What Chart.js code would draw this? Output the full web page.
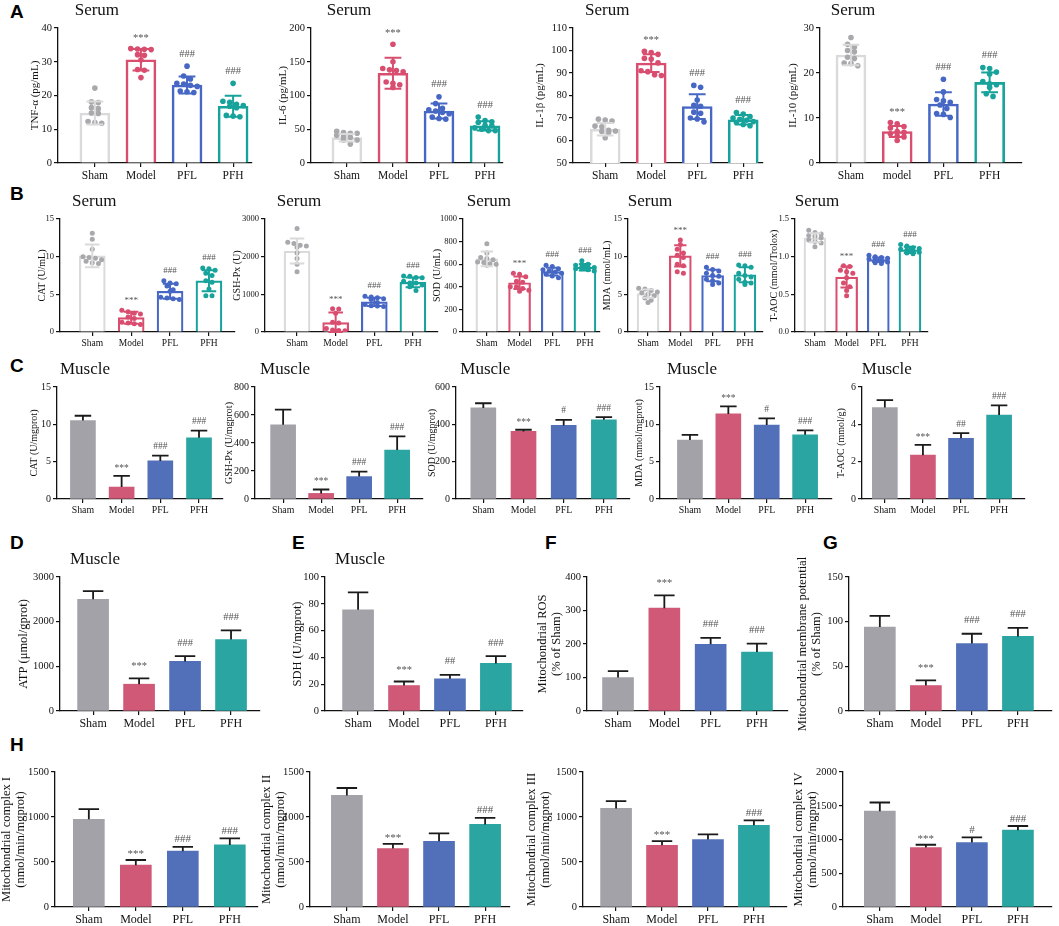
<!DOCTYPE html>
<html>
<head>
<meta charset="utf-8">
<script src="https://cdn.jsdelivr.net/npm/chart.js@4.4.1/dist/chart.umd.min.js"></script>
<style>
body { margin: 0; background: #fff; width: 1059px; height: 926px; position: relative; overflow: hidden; }
.lt { position: absolute; font-family: "Liberation Sans", Arial, sans-serif; font-weight: bold; font-size: 19px; line-height: 19px; color: #000; }
.box { position: absolute; }
</style>
</head>
<body>
<div class="lt" style="left:10px;top:2px">A</div>
<div class="lt" style="left:10px;top:184px">B</div>
<div class="lt" style="left:10px;top:356px">C</div>
<div class="lt" style="left:10px;top:533px">D</div>
<div class="lt" style="left:292px;top:533px">E</div>
<div class="lt" style="left:545px;top:533px">F</div>
<div class="lt" style="left:823px;top:533px">G</div>
<div class="lt" style="left:10px;top:735px">H</div>
<script>
const groups = ['Sham', 'Model', 'PFL', 'PFH'];
const groupsIL10 = ['Sham', 'model', 'PFL', 'PFH'];

// A - serum cytokines (mean, SD, single animals)
const tnfMean = [14.8, 30.6, 23.1, 16.8];
const tnfSd = [3.4, 3.2, 2.5, 3.1];
const tnfPoints = [
    [22.2, 18.1, 17.9, 16.4, 16.1, 14.8, 14.7, 12.3, 12.0, 11.8],
    [33.9, 33.8, 33.7, 33.6, 32.1, 31.9, 30.5, 27.7, 27.5, 25.3],
    [28.7, 25.8, 24.9, 23.6, 23.4, 23.0, 22.7, 21.1, 20.9, 21.3],
    [23.6, 18.3, 18.0, 17.4, 16.8, 16.4, 14.1, 13.9, 13.7, 17.0]
];
const tnfMarks = ['', '***', '###', '###'];

const il6Mean = [37.5, 133, 77, 55];
const il6Sd = [5.5, 23, 11, 7];
const il6Points = [
    [47, 45, 44, 44, 41, 39, 38, 34, 34, 28],
    [176, 150, 140, 138, 137, 135, 120, 118, 116, 112],
    [98, 88, 81, 79, 77, 75, 73, 68, 66, 65],
    [68, 63, 61, 60, 56, 55, 52, 50, 48, 48]
];
const il6Marks = ['', '***', '###', '###'];

const il1bMean = [65, 94.4, 75.1, 69.2];
const il1bSd = [2.8, 3.9, 5.5, 2.1];
const il1bPoints = [
    [69.5, 69.1, 68.7, 66.4, 66.1, 64.2, 64.0, 63.6, 61.2, 64.5],
    [99.6, 99.1, 98.3, 96.5, 96.2, 94.5, 91.0, 89.2, 88.9, 90.6],
    [84.5, 83.7, 78.0, 75.6, 75.2, 72.6, 72.1, 70.0, 69.6, 68.3],
    [72.4, 71.8, 70.6, 70.0, 69.4, 69.0, 68.4, 68.0, 67.1, 66.6]
];
const il1bMarks = ['', '***', '###', '###'];

const il10Mean = [24, 7, 13.1, 17.9];
const il10Sd = [2.3, 1.2, 2.6, 2.2];
const il10Points = [
    [27.9, 26.4, 25.8, 25.0, 24.7, 23.5, 23.2, 22.2, 22.1, 21.6],
    [9.0, 8.7, 8.1, 7.8, 7.0, 6.8, 6.5, 6.0, 5.8, 5.0],
    [18.6, 15.8, 14.1, 13.8, 13.5, 12.9, 12.1, 11.0, 10.8, 10.1],
    [21.2, 21.0, 20.2, 19.8, 18.1, 17.6, 17.4, 16.8, 15.4, 14.8]
];
const il10Marks = ['', '***', '###', '###'];

// B - serum oxidative stress
const catSMean = [10.1, 1.9, 5.4, 6.8];
const catSSd = [1.5, 0.8, 1.0, 1.4];
const catSPoints = [
    [13.1, 12.3, 11.0, 10.0, 9.9, 9.6, 9.4, 9.2, 9.1, 9.8],
    [2.9, 2.7, 2.5, 2.4, 2.0, 1.8, 1.3, 1.2, 1.0, 1.1],
    [6.8, 6.5, 6.4, 6.1, 5.6, 5.4, 4.6, 4.5, 4.4, 4.3],
    [8.5, 8.4, 8.2, 7.8, 7.5, 6.8, 6.6, 5.7, 4.8, 4.8]
];
const catSMarks = ['', '***', '###', '###'];

const gshSMean = [2150, 250, 800, 1320];
const gshSSd = [330, 270, 110, 130];
const gshSPoints = [
    [2750, 2380, 2350, 2300, 2280, 2250, 2100, 1950, 1800, 1600],
    [620, 610, 500, 260, 240, 90, 50, 30, 20, 40],
    [950, 930, 910, 880, 860, 780, 730, 700, 680, 690],
    [1490, 1480, 1450, 1440, 1350, 1300, 1250, 1200, 1100, 1300]
];
const gshSMarks = ['', '***', '###', '###'];

const sodSMean = [647, 436, 534, 573];
const sodSSd = [65, 55, 35, 28];
const sodSPoints = [
    [780, 700, 660, 650, 640, 620, 605, 600, 590, 615],
    [520, 510, 490, 450, 440, 400, 385, 370, 360, 400],
    [590, 580, 560, 550, 540, 530, 520, 510, 495, 480],
    [630, 600, 590, 580, 575, 570, 560, 550, 540, 560]
];
const sodSMarks = ['', '***', '###', '###'];

const mdaSMean = [5.1, 10.1, 7.5, 7.6];
const mdaSSd = [0.55, 1.4, 0.75, 1.0];
const mdaSPoints = [
    [5.8, 5.7, 5.5, 5.3, 5.2, 5.0, 4.8, 4.5, 4.2, 3.9],
    [12.2, 11.6, 11.0, 10.5, 10.2, 9.9, 9.0, 8.8, 8.0, 7.8],
    [8.6, 8.3, 8.1, 7.8, 7.5, 7.4, 7.0, 6.8, 6.5, 6.3],
    [8.9, 8.8, 8.6, 7.8, 7.5, 7.3, 7.0, 6.6, 6.5, 6.3]
];
const mdaSMarks = ['', '***', '###', '###'];

const taocSMean = [1.25, 0.73, 0.96, 1.09];
const taocSSd = [0.06, 0.14, 0.03, 0.04];
const taocSPoints = [
    [1.35, 1.32, 1.30, 1.28, 1.27, 1.25, 1.22, 1.20, 1.18, 1.13],
    [0.88, 0.87, 0.82, 0.80, 0.78, 0.72, 0.65, 0.60, 0.55, 0.48],
    [1.02, 1.00, 0.99, 0.98, 0.97, 0.96, 0.95, 0.93, 0.92, 0.91],
    [1.16, 1.14, 1.12, 1.11, 1.10, 1.09, 1.08, 1.06, 1.05, 1.04]
];
const taocSMarks = ['', '***', '###', '###'];

// C - muscle oxidative stress
const catMMean = [10.5, 1.6, 5.1, 8.2];
const catMSd = [0.65, 1.5, 0.7, 0.95];
const catMMarks = ['', '***', '###', '###'];
const gshMMean = [530, 40, 160, 350];
const gshMSd = [108, 28, 35, 98];
const gshMMarks = ['', '***', '###', '###'];
const sodMMean = [488, 362, 394, 424];
const sodMSd = [25, 9, 30, 15];
const sodMMarks = ['', '***', '#', '###'];
const mdaMMean = [7.9, 11.4, 9.9, 8.6];
const mdaMSd = [0.7, 1.0, 0.9, 0.6];
const mdaMMarks = ['', '***', '#', '###'];
const taocMMean = [4.9, 2.35, 3.25, 4.5];
const taocMSd = [0.4, 0.55, 0.28, 0.52];
const taocMMarks = ['', '***', '##', '###'];

// D-G - energy metabolism
const atpMean = [2500, 600, 1110, 1600];
const atpSd = [185, 130, 120, 205];
const atpMarks = ['', '***', '###', '###'];
const sdhMean = [75.5, 19, 24, 35.5];
const sdhSd = [13, 3, 3, 5.5];
const sdhMarks = ['', '***', '##', '###'];
const rosMean = [100, 307, 199, 176];
const rosSd = [19, 38, 19, 25];
const rosMarks = ['', '***', '###', '###'];
const mmpMean = [94, 28.5, 75.5, 83.5];
const mmpSd = [12.5, 5.8, 11, 9.5];
const mmpMarks = ['', '***', '###', '###'];

// H - mitochondrial complexes
const cx1Mean = [975, 465, 620, 690];
const cx1Sd = [112, 57, 48, 72];
const cx1Marks = ['', '***', '###', '###'];
const cx2Mean = [1240, 650, 730, 918];
const cx2Sd = [82, 52, 88, 72];
const cx2Marks = ['', '***', '', '###'];
const cx3Mean = [1095, 685, 750, 908];
const cx3Sd = [82, 48, 58, 54];
const cx3Marks = ['', '***', '', '###'];
const cx4Mean = [1420, 882, 955, 1138];
const cx4Sd = [128, 40, 76, 62];
const cx4Marks = ['', '***', '#', '###'];

const hollowLine = ['#dadada', '#d94d6f', '#4767c5', '#17a39b'];
const hollowDot = ['#a8a8ad', '#d94d6f', '#4767c5', '#17a39b'];
const solidFill = ['#a2a2a8', '#cf5977', '#5170b9', '#2aa5a2'];
const serif = '"Liberation Serif", "Times New Roman", serif';

// row styles
const rowA = { kind: 'hollow', barW: 30, bw: 2.6, r: 2.8, xh: 24, tickSize: 10.5, catSize: 11.5, labSize: 11, markSize: 10.5, gap: 13 };
const rowB = { kind: 'hollow', barW: 26, bw: 2.2, r: 2.5, xh: 22, tickSize: 8.5, catSize: 9.5, labSize: 10, markSize: 9, gap: 11 };
const rowC = { kind: 'solid', barW: 25, xh: 22, tickSize: 10, catSize: 9.8, labSize: 10, markSize: 9.5, gap: 10 };
const rowD = { kind: 'solid', barW: 31, xh: 26, tickSize: 10.5, catSize: 12, labSize: 12.5, markSize: 10.5, gap: 14 };
const rowH = { kind: 'solid', barW: 31, xh: 26, tickSize: 10.5, catSize: 12, labSize: 12.5, markSize: 11, gap: 8 };

const panels = [
    { ...rowA, rect: [58, 28, 252, 163], xr: [-0.80, 3.41], yw: 29, title: 'Serum', ylabel: 'TNF-α (pg/mL)', yMin: 0, yMax: 40, step: 10, cats: groups, mean: tnfMean, sd: tnfSd, points: tnfPoints, marks: tnfMarks },
    { ...rowA, rect: [311, 28, 503, 163], xr: [-0.78, 3.39], yw: 34, title: 'Serum', ylabel: 'IL-6 (pg/mL)', yMin: 0, yMax: 200, step: 50, cats: groups, mean: il6Mean, sd: il6Sd, points: il6Points, marks: il6Marks },
    { ...rowA, rect: [573, 28, 763, 163], xr: [-0.70, 3.43], yw: 39, title: 'Serum', ylabel: 'IL-1β (pg/mL)', yMin: 50, yMax: 110, step: 10, cats: groups, mean: il1bMean, sd: il1bSd, points: il1bPoints, marks: il1bMarks },
    { ...rowA, rect: [820, 28, 1022, 163], xr: [-0.67, 3.70], yw: 33, title: 'Serum', ylabel: 'IL-10 (pg/mL)', yMin: 0, yMax: 30, step: 10, cats: groupsIL10, mean: il10Mean, sd: il10Sd, points: il10Points, marks: il10Marks },

    { ...rowB, rect: [60, 219, 235, 332], xr: [-0.83, 3.67], yw: 23, title: 'Serum', ylabel: 'CAT (U/mL)', yMin: 0, yMax: 15, step: 5, cats: groups, mean: catSMean, sd: catSSd, points: catSPoints, marks: catSMarks },
    { ...rowB, rect: [265, 219, 438, 332], xr: [-0.83, 3.65], yw: 33, title: 'Serum', ylabel: 'GSH-Px (U)', yMin: 0, yMax: 3000, step: 1000, cats: groups, mean: gshSMean, sd: gshSSd, points: gshSPoints, marks: gshSMarks },
    { ...rowB, barW: 22, rect: [463, 219, 600, 332], xr: [-0.73, 3.46], yw: 31, title: 'Serum', ylabel: 'SOD (U/mL)', yMin: 0, yMax: 1000, step: 200, cats: groups, mean: sodSMean, sd: sodSSd, points: sodSPoints, marks: sodSMarks },
    { ...rowB, barW: 22, rect: [628, 219, 763, 332], xr: [-0.62, 3.56], yw: 26, title: 'Serum', ylabel: 'MDA (nmol/mL)', yMin: 0, yMax: 15, step: 5, cats: groups, mean: mdaSMean, sd: mdaSSd, points: mdaSPoints, marks: mdaSMarks },
    { ...rowB, barW: 22, rect: [795, 219, 928, 332], xr: [-0.63, 3.57], yw: 26, title: 'Serum', ylabel: 'T-AOC (mmol/Trolox)', yMin: 0, yMax: 1.5, step: 0.5, fmt: v => v.toFixed(1), cats: groups, mean: taocSMean, sd: taocSSd, points: taocSPoints, marks: taocSMarks },

    { ...rowC, rect: [57, 387, 223, 499], xr: [-0.67, 3.62], yw: 28, title: 'Muscle', ylabel: 'CAT (U/mgprot)', yMin: 0, yMax: 15, step: 5, cats: groups, mean: catMMean, sd: catMSd, marks: catMMarks },
    { ...rowC, rect: [255, 387, 423, 499], xr: [-0.74, 3.68], yw: 31, title: 'Muscle', ylabel: 'GSH-Px (U/mgprot)', yMin: 0, yMax: 800, step: 200, cats: groups, mean: gshMMean, sd: gshMSd, marks: gshMMarks },
    { ...rowC, rect: [456, 387, 630, 499], xr: [-0.68, 3.65], yw: 29, title: 'Muscle', ylabel: 'SOD (U/mgprot)', yMin: 0, yMax: 600, step: 200, cats: groups, mean: sodMMean, sd: sodMSd, marks: sodMMarks },
    { ...rowC, rect: [660, 387, 832, 499], xr: [-0.78, 3.70], yw: 26, title: 'Muscle', ylabel: 'MDA (mmol/mgprot)', yMin: 0, yMax: 15, step: 5, cats: groups, mean: mdaMMean, sd: mdaMSd, marks: mdaMMarks },
    { ...rowC, rect: [862, 387, 1025, 499], xr: [-0.60, 3.68], yw: 26, title: 'Muscle', ylabel: 'T-AOC (mmol/g)', yMin: 0, yMax: 6, step: 2, cats: groups, mean: taocMMean, sd: taocMSd, marks: taocMMarks },

    { ...rowD, rect: [60, 577, 260, 711], xr: [-0.72, 3.63], yw: 43, title: 'Muscle', ylabel: 'ATP (μmol/gprot)', yMin: 0, yMax: 3000, step: 1000, cats: groups, mean: atpMean, sd: atpSd, marks: atpMarks },
    { ...rowD, rect: [325, 577, 523, 711], xr: [-0.72, 3.59], yw: 34, title: 'Muscle', ylabel: 'SDH (U/mgprot)', yMin: 0, yMax: 100, step: 20, cats: groups, mean: sdhMean, sd: sdhSd, marks: sdhMarks },
    { ...rowD, rect: [587, 577, 788, 711], xr: [-0.67, 3.67], yw: 51, ylabel: ['Mitochondrial ROS', '(% of Sham)'], yMin: 0, yMax: 400, step: 100, cats: groups, mean: rosMean, sd: rosSd, marks: rosMarks },
    { ...rowD, rect: [849, 577, 1052, 711], xr: [-0.67, 3.74], yw: 53, ylabel: ['Mitochondrial membrane potential', '(% of Sham)'], yMin: 0, yMax: 150, step: 50, cats: groups, mean: mmpMean, sd: mmpSd, marks: mmpMarks },

    { ...rowH, rect: [55, 772, 258, 907], xr: [-0.72, 3.60], yw: 55, ylabel: ['Mitochondrial complex I', '(nmol/min/mgprot)'], yMin: 0, yMax: 1500, step: 500, cats: groups, mean: cx1Mean, sd: cx1Sd, marks: cx1Marks },
    { ...rowH, rect: [310, 772, 510, 907], xr: [-0.80, 3.54], yw: 50, ylabel: ['Mitochondrial complex II', '(nmol/min/mgprot)'], yMin: 0, yMax: 1500, step: 500, cats: groups, mean: cx2Mean, sd: cx2Sd, marks: cx2Marks },
    { ...rowH, rect: [583, 772, 787, 907], xr: [-0.72, 3.72], yw: 58, ylabel: ['Mitochondrial complex III', '(nmol/min/mgprot)'], yMin: 0, yMax: 1500, step: 500, cats: groups, mean: cx3Mean, sd: cx3Sd, marks: cx3Marks },
    { ...rowH, rect: [843, 772, 1052, 907], xr: [-0.80, 3.74], yw: 51, ylabel: ['Mitochondrial complex IV', '(nmol/min/mgprot)'], yMin: 0, yMax: 2000, step: 500, cats: groups, mean: cx4Mean, sd: cx4Sd, marks: cx4Marks }
];

// spread close values sideways, highest first, at most 4 per row
function beeswarm(vals, thr, dx) {
    const sorted = vals.slice().sort((a, b) => b - a);
    const out = [];
    let row = [];
    const flush = () => {
        row.forEach((v, k) => out.push({ v: v, off: (k - (row.length - 1) / 2) * dx }));
        row = [];
    };
    sorted.forEach(v => {
        if (row.length && (row[0] - v > thr || row.length >= 4)) flush();
        row.push(v);
    });
    flush();
    return out;
}

function makeChart(p) {
    const [L, T, R, B] = p.rect;
    const padTop = p.title ? 34 : 30;
    const padRight = 8;
    const hollow = p.kind === 'hollow';

    const wrap = document.createElement('div');
    wrap.className = 'box';
    wrap.style.left = (L - p.yw) + 'px';
    wrap.style.top = (T - padTop) + 'px';
    wrap.style.width = (R - L + p.yw + padRight) + 'px';
    wrap.style.height = (B - T + padTop + p.xh) + 'px';
    const cv = document.createElement('canvas');
    wrap.appendChild(cv);
    document.body.appendChild(wrap);

    const datasets = [{
        type: 'bar',
        data: p.mean.map((m, i) => ({ x: i, y: m })),
        backgroundColor: hollow ? '#ffffff' : solidFill,
        borderColor: hollow ? hollowLine : solidFill,
        borderWidth: hollow ? p.bw : 0,
        barThickness: p.barW,
        borderSkipped: 'start',
        order: 2
    }];

    if (p.points) {
        const spx = (R - L) / (p.xr[1] - p.xr[0]);
        const dx = (2 * p.r + 1.2) / spx;
        const thr = 2 * p.r / (B - T) * (p.yMax - p.yMin) * 0.9;
        const pts = [];
        const cols = [];
        p.points.forEach((vals, gi) => {
            beeswarm(vals, thr, dx).forEach(d => {
                pts.push({ x: gi + d.off, y: d.v });
                cols.push(hollowDot[gi]);
            });
        });
        datasets.push({
            type: 'scatter',
            data: pts,
            pointBackgroundColor: cols,
            pointBorderWidth: 0,
            pointRadius: p.r,
            order: 1
        });
    }

    // error bars, significance marks and panel title
    const deco = {
        id: 'deco',
        afterDatasetsDraw(chart) {
            const { ctx, chartArea, scales: { x, y } } = chart;
            ctx.save();
            p.mean.forEach((m, i) => {
                const cx = x.getPixelForValue(i);
                const top = y.getPixelForValue(m + p.sd[i]);
                const half = p.barW * (hollow ? 0.28 : 0.33);
                const bot = hollow ? Math.min(y.getPixelForValue(m - p.sd[i]), chartArea.bottom) : y.getPixelForValue(m);
                ctx.strokeStyle = hollow ? hollowLine[i] : '#1a1a1a';
                ctx.lineWidth = hollow ? 2 : 1.8;
                ctx.beginPath();
                ctx.moveTo(cx, top);
                ctx.lineTo(cx, bot);
                ctx.moveTo(cx - half, top);
                ctx.lineTo(cx + half, top);
                if (hollow) {
                    ctx.moveTo(cx - half, bot);
                    ctx.lineTo(cx + half, bot);
                }
                ctx.stroke();

                const mark = p.marks[i];
                if (mark) {
                    let hi = m + p.sd[i];
                    if (p.points) hi = Math.max(hi, ...p.points[i]);
                    const cy = y.getPixelForValue(hi) - p.gap;
                    ctx.font = p.markSize + 'px ' + serif;
                    const mt = ctx.measureText(mark);
                    ctx.fillStyle = '#555';
                    ctx.textAlign = 'center';
                    ctx.textBaseline = 'alphabetic';
                    ctx.fillText(mark, cx, cy + (mt.actualBoundingBoxAscent - mt.actualBoundingBoxDescent) / 2);
                }
            });
            if (p.title) {
                ctx.font = '17px ' + serif;
                ctx.fillStyle = '#111';
                ctx.textAlign = 'center';
                ctx.textBaseline = 'alphabetic';
                ctx.fillText(p.title, x.getPixelForValue(0) + 2, chartArea.top - 13);
            }
            ctx.restore();
        }
    };

    new Chart(cv, {
        type: 'bar',
        data: { datasets: datasets },
        options: {
            responsive: true,
            maintainAspectRatio: false,
            animation: false,
            layout: { padding: { top: padTop, right: padRight, bottom: 0, left: 0 } },
            plugins: { legend: { display: false }, tooltip: { enabled: false } },
            scales: {
                x: {
                    type: 'linear',
                    min: p.xr[0],
                    max: p.xr[1],
                    offset: false,
                    afterBuildTicks: s => { s.ticks = p.cats.map((c, i) => ({ value: i })); },
                    afterFit: s => { s.height = p.xh; },
                    ticks: {
                        callback: (v, i) => p.cats[i],
                        font: { family: serif, size: p.catSize },
                        color: '#111',
                        padding: 2,
                        maxRotation: 0,
                        autoSkip: false
                    },
                    grid: { drawOnChartArea: false, offset: false, tickLength: 4, color: '#111', lineWidth: 1.2 },
                    border: { color: '#111', width: 1.3 }
                },
                y: {
                    min: p.yMin,
                    max: p.yMax,
                    afterFit: s => { s.width = p.yw; },
                    ticks: {
                        stepSize: p.step,
                        callback: p.fmt || (v => String(v)),
                        font: { family: serif, size: p.tickSize },
                        color: '#111',
                        padding: 2
                    },
                    grid: { drawOnChartArea: false, tickLength: 4, color: '#111', lineWidth: 1.2 },
                    border: { color: '#111', width: 1.3 },
                    title: {
                        display: true,
                        text: p.ylabel,
                        font: { family: serif, size: p.labSize, lineHeight: 1.1 },
                        color: '#111',
                        padding: 0
                    }
                }
            }
        },
        plugins: [deco]
    });
}

panels.forEach(makeChart);
</script>
</body>
</html>
